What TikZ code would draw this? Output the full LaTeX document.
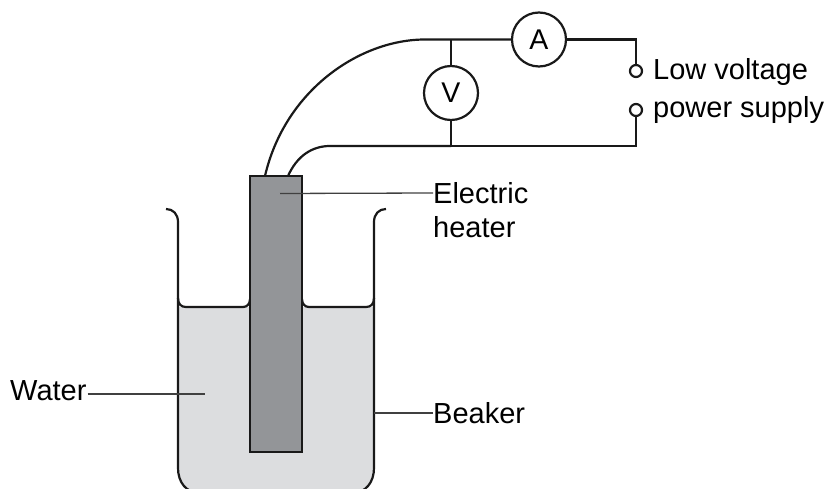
\documentclass[tikz,border=0pt]{standalone}
\usepackage{fontspec}
\setmainfont{Liberation Sans}
\tikzset{
  wire/.style={line width=2.2pt,draw=black!90},
  leader/.style={line width=1.3pt,draw=black!75},
  meter/.style={circle,wire,fill=white,minimum size=54pt,inner sep=0pt,font=\fontsize{28.5}{32}\selectfont},
  terminal/.style={circle,wire,fill=white,minimum size=12pt,inner sep=0pt},
  tag/.style={inner sep=0pt,anchor=west,font=\fontsize{29}{32}\selectfont},
}
\definecolor{waterc}{HTML}{DCDDDF}
\definecolor{heaterc}{HTML}{939598}
\begin{document}
\begin{tikzpicture}[x=1pt,y=-1pt]
\clip (0,0) rectangle (831,489);
%Water and beaker
\fill[waterc] (178,307) -- (178,468) .. controls (178,482) and (186,493) .. (200,493)
  -- (352,493) .. controls (366,493) and (374,482) .. (374,468) -- (374,307) -- cycle;
\draw[wire] (166,209) .. controls (173,209) and (178,214) .. (178,222)
  -- (178,468) .. controls (178,482) and (186,493) .. (200,493)
  -- (352,493) .. controls (366,493) and (374,482) .. (374,468)
  -- (374,222) .. controls (374,214) and (379,209) .. (386,209);
\draw[wire] (178,298) .. controls (178,304) and (181,307) .. (186,307) -- (243,307)
  .. controls (247,307) and (250,304) .. (250,299);
\draw[wire] (302,299) .. controls (302,304) and (305,307) .. (309,307) -- (366,307)
  .. controls (371,307) and (374,304) .. (374,298);
%Heater
\node[draw=black!90,line width=2.2pt,fill=heaterc,minimum width=52pt,minimum height=276pt,inner sep=0pt] (heater) at (276,314) {};
%Meters and terminals
\node[meter] (A) at (539,39.5) {A};
\node[meter] (V) at (451,93) {V};
\node[terminal] (tu) at (636,71) {};
\node[terminal] (td) at (636,110) {};
\coordinate (wl) at (265,176);
\coordinate (wr) at (288,176);
\coordinate (jt) at (451,39.5);
\coordinate (jb) at (451,146);
%Circuit
\draw[wire] (wl) .. controls (285,90) and (360,39.5) .. (425,39.5) -- (jt) -- (A);
\draw[wire] (wr) .. controls (297,156) and (312,146) .. (330,146) -- (jb);
\draw[wire] (A) -| (tu);
\draw[wire] (td) |- (jb);
\draw[wire] (jt) -- (V);
\draw[wire] (V) -- (jb);
%Labels
\node[tag] (elec) at (433,193) {Electric};
\node[tag] (heat) at (433,227) {heater};
\node[tag] (beak) at (433,413) {Beaker};
\node[tag] (wat) at (10,391) {Water};
\node[tag] (low) at (653,72) {Low voltage};
\node[tag] (pow) at (653,110) {power supply};
\coordinate (he) at (280,193.5);
\coordinate (we) at (205,394);
\coordinate (be) at (374,413);
%Leaders
\draw[leader] (elec.west) -- (he);
\draw[leader] (wat.east) ++(1,3) -- (we);
\draw[leader] (beak.west) -- (be);
\end{tikzpicture}
\end{document}
